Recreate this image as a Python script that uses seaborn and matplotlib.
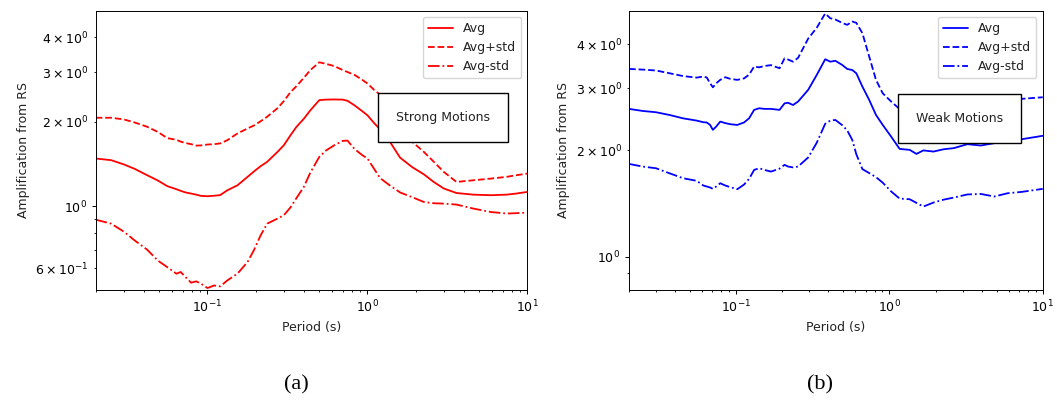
import numpy as np
import pandas as pd
import matplotlib
matplotlib.use("Agg")
import matplotlib.pyplot as plt
import seaborn as sns

# ---- Strong-motion amplification spectra (period in s) ----
period_strong = [0.02, 0.025, 0.03, 0.035, 0.042, 0.049, 0.056, 0.064, 0.068, 0.073,
                 0.079, 0.085, 0.091, 0.1, 0.11, 0.12, 0.133, 0.154, 0.178, 0.195,
                 0.215, 0.236, 0.273, 0.3, 0.33, 0.36, 0.4, 0.44, 0.5, 0.55,
                 0.62, 0.7, 0.75, 0.83, 0.93, 1.0, 1.1, 1.2, 1.37, 1.6,
                 1.9, 2.25, 2.6, 3.0, 3.6, 4.6, 5.9, 7.4, 8.5, 10.0]
avg_strong = [1.48, 1.46, 1.41, 1.36, 1.29, 1.235, 1.18, 1.15, 1.135, 1.12,
              1.11, 1.10, 1.089, 1.086, 1.09, 1.096, 1.14, 1.188, 1.273, 1.33,
              1.39, 1.44, 1.56, 1.65, 1.79, 1.92, 2.05, 2.20, 2.39, 2.40,
              2.403, 2.40, 2.377, 2.29, 2.18, 2.11, 1.98, 1.88, 1.71, 1.49,
              1.38, 1.30, 1.22, 1.157, 1.115, 1.10, 1.095, 1.10, 1.11, 1.125]
plus_strong = [2.068, 2.068, 2.04, 1.99, 1.92, 1.84, 1.75, 1.725, 1.70, 1.68,
               1.665, 1.645, 1.648, 1.66, 1.665, 1.675, 1.72, 1.818, 1.894, 1.94,
               2.01, 2.085, 2.233, 2.37, 2.55, 2.68, 2.87, 3.06, 3.26, 3.22,
               3.16, 3.06, 3.01, 2.94, 2.82, 2.74, 2.60, 2.50, 2.23, 1.86,
               1.70, 1.563, 1.44, 1.326, 1.221, 1.238, 1.255, 1.273, 1.29, 1.308]
minus_strong = [0.896, 0.867, 0.812, 0.756, 0.70, 0.64, 0.607, 0.575, 0.583, 0.559,
                0.534, 0.54, 0.53, 0.511, 0.522, 0.518, 0.544, 0.575, 0.633, 0.697,
                0.788, 0.867, 0.903, 0.929, 0.99, 1.07, 1.172, 1.32, 1.50, 1.58,
                1.65, 1.71, 1.715, 1.60, 1.52, 1.48, 1.36, 1.26, 1.19, 1.12,
                1.078, 1.036, 1.025, 1.022, 1.014, 0.981, 0.954, 0.942, 0.945, 0.949]

# ---- Weak-motion amplification spectra (period in s) ----
period_weak = [0.02, 0.0245, 0.03, 0.0367, 0.045, 0.0552, 0.0611, 0.0643, 0.0676, 0.0705,
               0.0741, 0.0787, 0.085, 0.0917, 0.1016, 0.1125, 0.1214, 0.131, 0.1413, 0.1525,
               0.1687, 0.1918, 0.207, 0.218, 0.235, 0.2535, 0.295, 0.335, 0.381, 0.411,
               0.444, 0.491, 0.53, 0.572, 0.608, 0.666, 0.738, 0.817, 0.904, 1.026,
               1.165, 1.356, 1.5, 1.664, 1.937, 2.256, 2.63, 3.22, 3.95, 4.83,
               5.9, 7.26, 10.0]
avg_weak = [2.623, 2.588, 2.566, 2.521, 2.466, 2.43, 2.404, 2.40, 2.362, 2.287,
            2.337, 2.414, 2.39, 2.373, 2.362, 2.40, 2.466, 2.606, 2.634, 2.623,
            2.623, 2.606, 2.72, 2.73, 2.69, 2.752, 2.97, 3.27, 3.627, 3.57,
            3.59, 3.496, 3.405, 3.38, 3.31, 3.034, 2.78, 2.521, 2.362, 2.188,
            2.02, 2.007, 1.955, 2.0, 1.985, 2.015, 2.03, 2.083, 2.065, 2.097,
            2.13, 2.151, 2.20]
plus_weak = [3.405, 3.39, 3.37, 3.31, 3.25, 3.217, 3.24, 3.22, 3.10, 3.02,
             3.10, 3.17, 3.225, 3.19, 3.17, 3.20, 3.28, 3.458, 3.44, 3.47,
             3.49, 3.42, 3.65, 3.62, 3.57, 3.66, 4.15, 4.45, 4.89, 4.74,
             4.70, 4.60, 4.54, 4.64, 4.60, 4.30, 3.69, 3.17, 2.904, 2.752,
             2.62, 2.56, 2.50, 2.61, 2.55, 2.58, 2.59, 2.67, 2.625, 2.71,
             2.75, 2.80, 2.83]
minus_weak = [1.831, 1.80, 1.78, 1.723, 1.668, 1.64, 1.59, 1.58, 1.57, 1.556,
              1.58, 1.614, 1.59, 1.573, 1.552, 1.60, 1.66, 1.761, 1.78, 1.761,
              1.742, 1.775, 1.82, 1.80, 1.79, 1.80, 1.91, 2.10, 2.38, 2.43,
              2.44, 2.36, 2.28, 2.142, 1.95, 1.77, 1.725, 1.68, 1.62, 1.53,
              1.46, 1.454, 1.42, 1.386, 1.423, 1.45, 1.47, 1.50, 1.505, 1.48,
              1.512, 1.525, 1.556]

series_labels = ["Avg", "Avg+std", "Avg-std"]
line_styles = ["-", "--", "-."]

sns.set_style("ticks")
plt.rcParams.update({
    "font.family": ["DejaVu Sans"],
    "font.size": 9,
    "axes.edgecolor": "black",
    "axes.linewidth": 0.7,
    "xtick.color": "black",
    "ytick.color": "black",
    "xtick.direction": "out",
    "ytick.direction": "out",
    "xtick.major.size": 3.0,
    "ytick.major.size": 3.0,
    "xtick.minor.size": 1.7,
    "ytick.minor.size": 1.7,
    "xtick.major.width": 0.7,
    "ytick.major.width": 0.7,
    "xtick.minor.width": 0.6,
    "ytick.minor.width": 0.6,
    "xtick.labelsize": 9,
    "ytick.labelsize": 9,
    "axes.labelsize": 9,
    "legend.fontsize": 9,
    "axes.labelcolor": "#222222",
    "text.color": "#222222",
})

fig = plt.figure(figsize=(10.57, 4.05), dpi=100)
ax_s = fig.add_axes([0.0905, 0.284, 0.4085, 0.6896])
ax_w = fig.add_axes([0.5951, 0.284, 0.3914, 0.6896])


def draw_panel(ax, period, curves, color, ylim, title, text_pos):
    df = pd.DataFrame({"Period": period})
    for lab, vals in zip(series_labels, curves):
        df[lab] = vals
    for lab, ls in zip(series_labels, line_styles):
        sns.lineplot(data=df, x="Period", y=lab, ax=ax, color=color,
                     linestyle=ls, linewidth=1.3, label=lab)
    ax.set_xscale("log")
    ax.set_yscale("log")
    ax.set_xlim(0.02, 10)
    ax.set_ylim(*ylim)
    ax.set_xlabel("Period (s)")
    ax.set_ylabel("Amplification from RS")
    ax.legend(loc="upper right")
    ax.text(text_pos[0], text_pos[1], title, transform=ax.transAxes,
            ha="center", va="center", fontsize=9, zorder=5,
            bbox=dict(boxstyle="square,pad=1.45", facecolor="white",
                      edgecolor="black", linewidth=1.0))


draw_panel(ax_s, period_strong, [avg_strong, plus_strong, minus_strong],
           "red", (0.503, 4.98), "Strong Motions", (0.805, 0.617))
draw_panel(ax_w, period_weak, [avg_weak, plus_weak, minus_weak],
           "blue", (0.804, 4.98), "Weak Motions", (0.799, 0.613))

fig.text(0.2807, 0.049, "(a)", ha="center", va="center",
         fontsize=16, family="Liberation Serif", color="black")
fig.text(0.7758, 0.049, "(b)", ha="center", va="center",
         fontsize=16, family="Liberation Serif", color="black")

fig.savefig("out.png", dpi=100)
